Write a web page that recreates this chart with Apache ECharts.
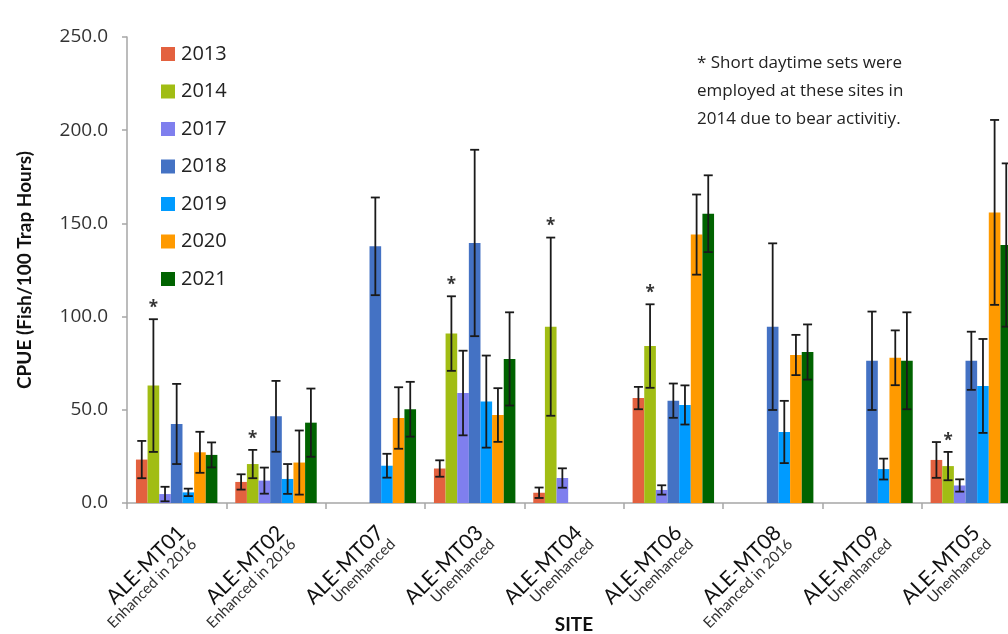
<!DOCTYPE html>
<html>
<head>
<meta charset="utf-8">
<script src="https://cdn.jsdelivr.net/npm/echarts@6/dist/echarts.min.js"></script>
<style>
html,body{margin:0;padding:0;background:#fff;overflow:hidden;}
#chart{width:1008px;height:634px;}
</style>
</head>
<body>
<div id="chart"></div>
<script>
const sites = ['ALE-MT01','ALE-MT02','ALE-MT07','ALE-MT03','ALE-MT04','ALE-MT06','ALE-MT08','ALE-MT09','ALE-MT05'];
const siteStatus = ['Enhanced in 2016','Enhanced in 2016','Unenhanced','Unenhanced','Unenhanced','Unenhanced','Enhanced in 2016','Unenhanced','Unenhanced'];
const years = ['2013','2014','2017','2018','2019','2020','2021'];
const yearColors = ['#E3613F','#A1BD14','#7F7FEE','#4472C4','#009BFF','#FF9A00','#006300'];

const v2013 = [23.3, 11.3, null, 18.5, 5.5, 56.3, null, null, 23.1];
const e2013 = [10.0, 4.1, null, 4.4, 2.8, 6.0, null, null, 9.6];
const v2014 = [63.0, 20.9, null, 90.9, 94.6, 84.2, null, null, 19.8];
const e2014 = [35.6, 7.6, null, 20.0, 47.8, 22.4, null, null, 7.6];
const v2017 = [4.8, 12.0, null, 59.0, 13.4, 7.0, null, null, 9.4];
const e2017 = [3.9, 7.0, null, 22.7, 5.2, 2.5, null, null, 3.3];
const v2018 = [42.4, 46.5, 137.7, 139.5, null, 54.9, 94.6, 76.3, 76.3];
const e2018 = [21.5, 19.0, 26.2, 50.0, null, 9.2, 44.7, 26.4, 15.6];
const v2019 = [5.7, 12.9, 20.0, 54.4, null, 52.6, 38.1, 18.2, 62.8];
const e2019 = [2.0, 8.0, 6.4, 24.7, null, 10.5, 16.7, 5.6, 25.2];
const v2020 = [27.2, 21.7, 45.6, 47.2, null, 144.0, 79.4, 77.9, 155.9];
const e2020 = [11.0, 17.2, 16.5, 14.4, null, 21.5, 10.8, 14.7, 49.6];
const v2021 = [25.8, 43.1, 50.3, 77.3, null, 155.2, 81.0, 76.3, 138.4];
const e2021 = [6.7, 18.3, 14.7, 25.0, null, 20.6, 14.8, 26.0, 43.8];
// sites marked with * (short daytime sets in 2014)
const asterisk2014 = [1, 1, 0, 1, 1, 1, 0, 0, 1];

const yTicks = [0, 50, 100, 150, 200, 250];
const noteLines = ['* Short daytime sets were', 'employed at these sites in', '2014 due to bear activitiy.'];

const values = [v2013, v2014, v2017, v2018, v2019, v2020, v2021];
const errors = [e2013, e2014, e2017, e2018, e2019, e2020, e2021];

const GAP = 0.18;
const N = years.length;

const series = [];
years.forEach((y, i) => {
  series.push({
    name: y, type: 'bar',
    data: values[i].map(v => v === null ? '-' : v),
    itemStyle: { color: yearColors[i] },
    barGap: '0%', barCategoryGap: (GAP * 100) + '%',
    z: 2
  });
});
years.forEach((y, i) => {
  const d = [];
  values[i].forEach((v, k) => {
    if (v !== null) d.push([k, v, errors[i][k], i === 1 ? asterisk2014[k] : 0]);
  });
  series.push({
    name: y + ' error', type: 'custom', z: 5,
    data: d,
    renderItem: function (params, api) {
      const cat = api.value(0), v = api.value(1), e = api.value(2), star = api.value(3);
      const band = api.size([1, 0])[0];
      const groupW = band * (1 - GAP);
      const bw = groupW / N;
      const cx = api.coord([cat, 0])[0] - groupW / 2 + bw * (i + 0.5);
      const yTop = api.coord([cat, v + e])[1];
      const yBot = api.coord([cat, Math.max(v - e, 0)])[1];
      const cap = 4.5;
      const st = { stroke: '#1a1a1a', lineWidth: 1.8 };
      const children = [
        { type: 'line', shape: { x1: cx, y1: yTop, x2: cx, y2: yBot }, style: st },
        { type: 'line', shape: { x1: cx - cap, y1: yTop, x2: cx + cap, y2: yTop }, style: st },
        { type: 'line', shape: { x1: cx - cap, y1: yBot, x2: cx + cap, y2: yBot }, style: st }
      ];
      if (star) {
        children.push({
          type: 'text',
          style: { x: cx, y: yTop - 11, text: '*', fill: '#333', font: 'bold 17px "Open Sans"', align: 'center', verticalAlign: 'middle' }
        });
      }
      return { type: 'group', children: children };
    }
  });
});

const chart = echarts.init(document.getElementById('chart'), null, { renderer: 'canvas' });
chart.setOption({
  animation: false,
  backgroundColor: '#fff',
  grid: { left: 127, top: 37, bottom: 131, right: -13, containLabel: false, outerBoundsMode: 'none' },
  legend: {
    data: years, orient: 'vertical', left: 156, top: 39,
    icon: 'rect', itemWidth: 14, itemHeight: 14, itemGap: 17.5,
    textStyle: { fontFamily: 'Open Sans', fontSize: 20, color: '#222', lineHeight: 20, padding: [0,0,0,1] }
  },
  graphic: noteLines.map((t, k) => ({
    type: 'text', left: 697, top: 55 + k * 28,
    style: { text: t, font: '17px "Open Sans"', fill: '#222' }
  })),
  xAxis: {
    type: 'category', data: sites,
    name: 'SITE', nameLocation: 'middle', nameGap: 112, nameMoveOverlap: false,
    nameTextStyle: { fontFamily: 'Lato', fontWeight: 'bold', fontSize: 19, color: '#111' },
    axisLine: { lineStyle: { color: '#a6a6a6', width: 1.5 } },
    axisTick: { show: true, length: 6, lineStyle: { color: '#a6a6a6', width: 1.5 } },
    axisLabel: {
      rotate: 45, margin: 10, interval: 0, padding: [45, 8, 0, 0],
      formatter: (v, idx) => '{a|' + v + '}\n{b|' + siteStatus[idx] + '}',
      rich: {
        a: { fontFamily: 'Lato', fontSize: 21, color: '#111', lineHeight: 20 },
        b: { fontFamily: 'Lato', fontSize: 15, color: '#333', lineHeight: 15 }
      }
    }
  },
  yAxis: {
    type: 'value', min: 0, max: 250, interval: 50,
    name: 'CPUE (Fish/100 Trap Hours)', nameLocation: 'middle', nameGap: 93,
    nameTextStyle: { fontFamily: 'Lato', fontWeight: 'bold', fontSize: 19, color: '#111' },
    axisLine: { show: true, lineStyle: { color: '#a6a6a6', width: 1.5 } },
    axisTick: { show: true, length: 5, lineStyle: { color: '#a6a6a6', width: 1.5 } },
    splitLine: { show: false },
    axisLabel: {
      margin: 19, fontFamily: 'Open Sans', fontSize: 19, color: '#333',
      formatter: v => yTicks.indexOf(v) >= 0 ? v.toFixed(1) : ''
    }
  },
  series: series
});
</script>
</body>
</html>
